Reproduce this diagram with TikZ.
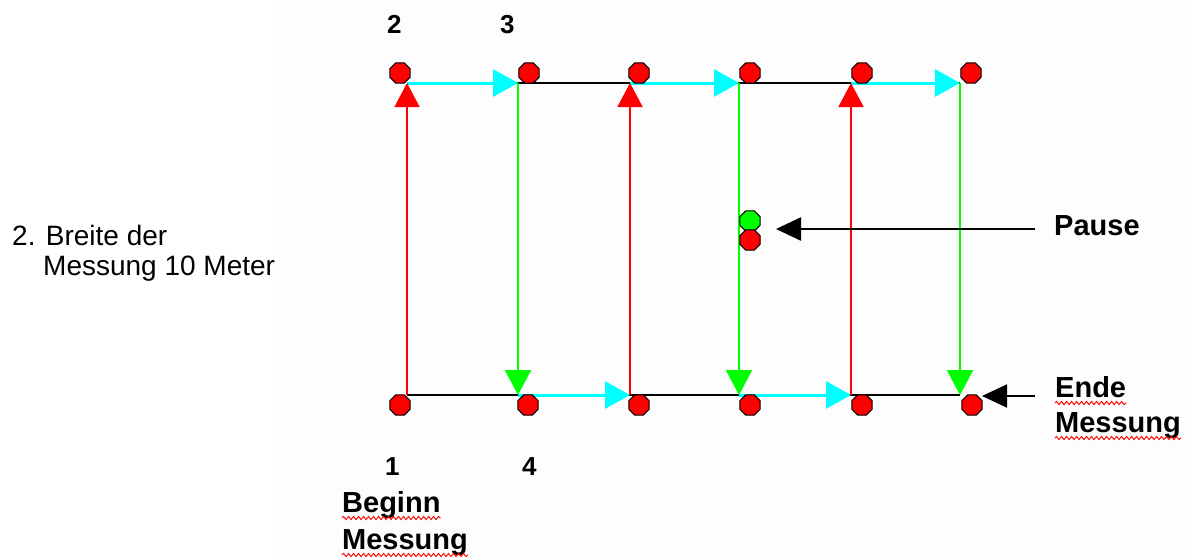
\documentclass[tikz,border=0pt]{standalone}
\usepackage{fontspec}
\setmainfont{Liberation Sans}
\usetikzlibrary{arrows.meta,shapes.geometric,decorations.pathmorphing,calc}
\definecolor{bgc}{RGB}{253,253,253}
\definecolor{cyanc}{RGB}{0,255,255}
\definecolor{greenc}{RGB}{0,255,0}
\definecolor{redc}{RGB}{255,0,0}
\begin{document}
\begin{tikzpicture}[x=1pt,y=-1pt,
  dot/.style={regular polygon,regular polygon sides=8,minimum size=22pt,inner sep=0pt,draw=black,line width=1.1pt,fill=redc},
  gdot/.style={dot,fill=greenc},
  base/.style={draw=black,line width=1.5pt},
  cyanarr/.style={draw=cyanc,line width=3pt,-{Triangle[length=25pt,width=27pt]}},
  redarr/.style={draw=redc,line width=2pt,-{Triangle[length=24pt,width=25pt]}},
  greenarr/.style={draw=greenc,line width=2.2pt,-{Triangle[length=25pt,width=26pt]}},
  blackarr/.style={draw=black,line width=2.5pt,-{Triangle[length=25pt,width=23pt]}},
  num/.style={inner sep=0pt,anchor=base west,font=\fontsize{26}{30}\selectfont\bfseries},
  lbl/.style={inner sep=0pt,anchor=base west,font=\fontsize{29}{34}\selectfont\bfseries},
  txt/.style={inner sep=0pt,anchor=base west,font=\fontsize{28}{32}\selectfont},
  wavy/.style={draw=redc,line width=0.9pt,decorate,decoration={snake,segment length=5pt,amplitude=1.6pt}}
]
\useasboundingbox (0,0) rectangle (1192,557);
\fill[bgc] (272,0) rectangle (1192,557);

% grid coordinates
\coordinate (T1) at (407,83); \coordinate (B1) at (407,395);
\coordinate (T2) at (518,83); \coordinate (B2) at (518,395);
\coordinate (T3) at (630,83); \coordinate (B3) at (630,395);
\coordinate (T4) at (739,83); \coordinate (B4) at (739,395);
\coordinate (T5) at (851,83); \coordinate (B5) at (851,395);
\coordinate (T6) at (960,83); \coordinate (B6) at (960,395);

% black base lines
\draw[base] (T1) -- (T6);
\draw[base] (B1) -- (B6);

% cyan arrows
\draw[cyanarr] (T1) -- (T2);
\draw[cyanarr] (T3) -- (T4);
\draw[cyanarr] (T5) -- (T6);
\draw[cyanarr] (B2) -- (B3);
\draw[cyanarr] (B4) -- (B5);

% red up arrows
\draw[redarr,line width=1.4pt] (B1) -- (T1);
\draw[redarr] (B3) -- (T3);
\draw[redarr] (B5) -- (T5);

% green down arrows
\draw[greenarr] (T2) -- (B2);
\draw[greenarr] (T4) -- (B4);
\draw[greenarr] (T6) -- (B6);

% dots
\node[dot] (t1) at (400,73) {};
\node[dot] (t2) at (529,73) {};
\node[dot] (t3) at (639,73) {};
\node[dot] (t4) at (750,73) {};
\node[dot] (t5) at (862,73) {};
\node[dot] (t6) at (971,73) {};
\node[dot] (b1) at (400,405) {};
\node[dot] (b2) at (528,405) {};
\node[dot] (b3) at (639,405) {};
\node[dot] (b4) at (750,405) {};
\node[dot] (b5) at (862,405) {};
\node[dot] (b6) at (972,405) {};

% pause
\node[gdot] (pg) at (750,221) {};
\node[dot] (pr) at (750,240) {};
\node[lbl] (pause) at (1054,235) {Pause};
\coordinate (pa) at (1035,229);
\coordinate (pt) at (776,229);
\draw[blackarr] (pa) -- (pt);

% ende
\node[lbl] (ende) at (1055,397) {Ende};
\node[lbl] (messR) at (1055,432) {Messung};
\coordinate (ea) at (1035,396);
\coordinate (et) at (982,396);
\draw[blackarr,line width=1.8pt] (ea) -- (et);

% numbers
\node[num] (n2) at (387,33) {2};
\node[num] (n3) at (500,33) {3};
\node[num] (n1) at (385,475) {1};
\node[num] (n4) at (522,475) {4};

% beginn
\node[lbl] (beginn) at (342,512) {Beginn};
\node[lbl] (messL) at (342,549) {Messung};

% wavy underlines
\draw[wavy] ($(beginn.base west)+(0,6)$) -- ($(beginn.base east)+(0,6)$);
\draw[wavy] ($(messL.base west)+(0,6)$) -- ($(messL.base east)+(0,6)$);
\draw[wavy] ($(ende.base west)+(0,6)$) -- ($(ende.base east)+(0,6)$);
\draw[wavy] ($(messR.base west)+(0,6)$) -- ($(messR.base east)+(0,6)$);

% left text
\node[txt] (br1) at (12,245) {2. Breite der};
\node[txt] (br2) at (43,275) {Messung 10 Meter};
\end{tikzpicture}
\end{document}
